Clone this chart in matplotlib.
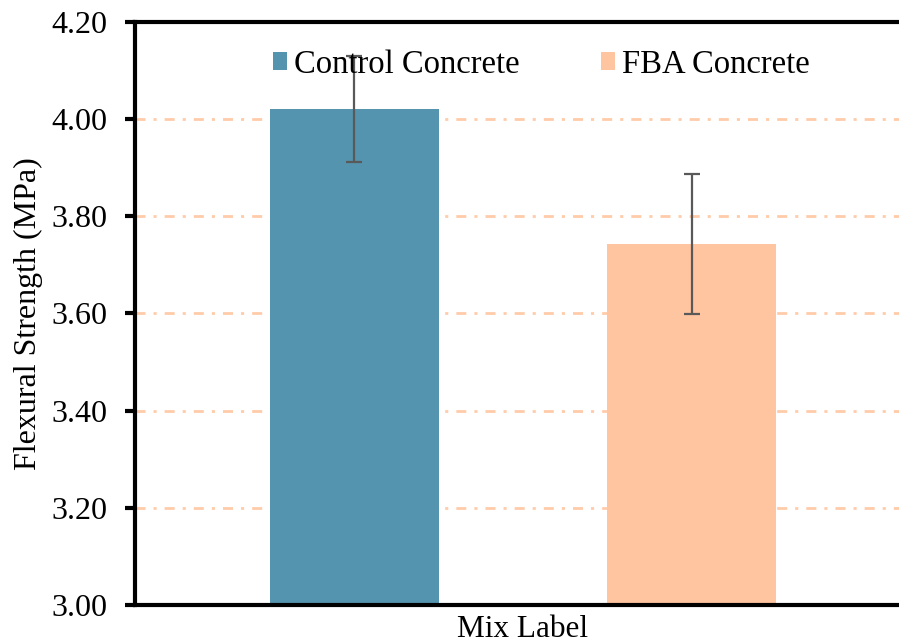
import matplotlib
matplotlib.use("Agg")
import matplotlib.pyplot as plt

# Flexural strength results
mixes = ["Control Concrete", "FBA Concrete"]
strength = [4.021, 3.743]
strength_err = [0.109, 0.144]
colors = ["#5594AE", "#FFC4A0"]
y_ticks = [3.00, 3.20, 3.40, 3.60, 3.80, 4.00, 4.20]

plt.rcParams["font.family"] = ["Liberation Serif", "DejaVu Serif"]

fig = plt.figure(figsize=(8.99, 6.44), dpi=100)
ax = fig.add_axes([0.150, 0.0606, 0.8634, 0.9052])

offsets = [-0.5, 0.5]
width = 0.5
for off, name, val, err, col in zip(offsets, mixes, strength, strength_err, colors):
    ax.bar(off, val - y_ticks[0], width=width, bottom=y_ticks[0], color=col,
           label=name, zorder=2)
    ax.errorbar(off, val, yerr=err, fmt="none", ecolor="#595959",
                elinewidth=1.6, capsize=6, capthick=1.6, zorder=3)

ax.set_xlim(-1.15, 1.15)
ax.set_ylim(y_ticks[0], y_ticks[-1])
ax.set_yticks(y_ticks)
ax.set_yticklabels([f"{t:.2f}" for t in y_ticks], fontsize=23)
ax.set_xticks([])

for t in y_ticks[1:-1]:
    ax.axhline(t, color="#FFCBA8", lw=2, ls=(0, (3.6, 2.9, 1.1, 2.9)), zorder=1)

for s in ["left", "bottom", "top"]:
    ax.spines[s].set_linewidth(3)
    ax.spines[s].set_color("black")
ax.spines["right"].set_visible(False)
ax.tick_params(axis="y", direction="out", length=7, width=3, pad=13)

ax.set_ylabel("Flexural Strength (MPa)", fontsize=23, labelpad=6)
ax.set_xlabel("Mix Label", fontsize=22.5, labelpad=7)

leg = ax.legend(loc="upper center", bbox_to_anchor=(0.524, 1.004), ncol=2,
                frameon=False, fontsize=23.5, handlelength=0.42, handleheight=0.45,
                handletextpad=0.22, columnspacing=2.5)
leg.set_zorder(5)

fig.savefig("out.png", dpi=100)
